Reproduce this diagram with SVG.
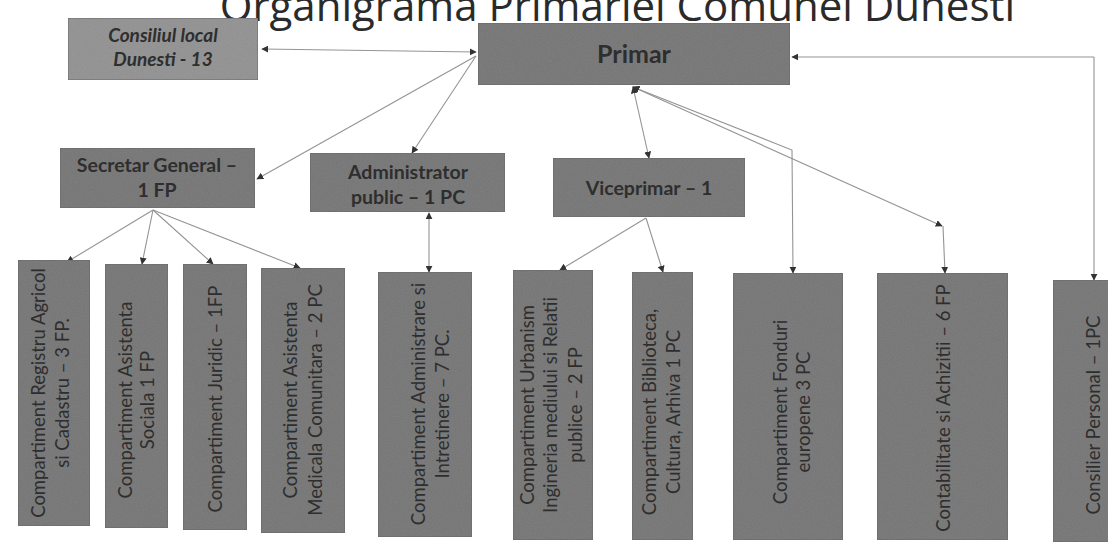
<svg xmlns="http://www.w3.org/2000/svg" width="1108" height="542" viewBox="0 0 1108 542">
<style>
.box{fill:#7f7f7f;stroke:#6c6c6c;stroke-width:1;filter:url(#grain)}
.light{fill:#9a9a9a}
.t{font-family:Lato,"Open Sans","Liberation Sans",sans-serif;fill:#2e2e2e;text-anchor:middle}
.h{font-size:19.5px;font-weight:bold}
.v{font-size:18.5px}
.c{fill:none;stroke:#949494;stroke-width:1.1}
</style>
<defs>
<filter id="grain" x="0" y="0" width="100%" height="100%">
<feTurbulence type="fractalNoise" baseFrequency="0.8" numOctaves="2" seed="3" result="n"/>
<feColorMatrix in="n" type="matrix" values="0 0 0 0 0.5  0 0 0 0 0.5  0 0 0 0 0.5  0 0 0 0.35 0" result="g"/>
<feComposite in="g" in2="SourceGraphic" operator="in" result="gi"/>
<feBlend in="gi" in2="SourceGraphic" mode="multiply"/>
</filter>
<marker id="ah" viewBox="0 0 10 10" refX="9" refY="5" markerWidth="7" markerHeight="7" markerUnits="userSpaceOnUse" orient="auto-start-reverse">
<path d="M0,0 L10,5 L0,10 z" fill="#333"/>
</marker>
</defs>
<rect width="1108" height="542" fill="#fff"/>
<text x="1015" y="21" font-family="'Open Sans',Lato,sans-serif" font-size="42" fill="#2a2a2a" text-anchor="end">Organigrama Primariei Comunei Dunesti</text>

<g id="connectors">
<path class="c" d="M476,52 L262,49" marker-end="url(#ah)" marker-start="url(#ah)"/>
<path class="c" d="M1094,57 L792,57" marker-end="url(#ah)"/>
<path class="c" d="M1094,57 L1094,280" marker-end="url(#ah)"/>
<path class="c" d="M476,56 L257,179" marker-end="url(#ah)"/>
<path class="c" d="M476,56 L412,153" marker-end="url(#ah)"/>
<path class="c" d="M633,87 L649,158" marker-end="url(#ah)" marker-start="url(#ah)"/>
<path class="c" d="M633,87 L792,150 L793,273" marker-end="url(#ah)" marker-start="url(#ah)"/>
<path class="c" d="M633,87 L942,226" marker-end="url(#ah)" marker-start="url(#ah)"/>
<path class="c" d="M943,226 L945,273" marker-end="url(#ah)"/>
<path class="c" d="M153,210 L67,262" marker-end="url(#ah)"/>
<path class="c" d="M153,210 L142,264" marker-end="url(#ah)"/>
<path class="c" d="M153,210 L213,264" marker-end="url(#ah)"/>
<path class="c" d="M153,210 L300,268" marker-end="url(#ah)"/>
<path class="c" d="M429,213 L429,272" marker-end="url(#ah)" marker-start="url(#ah)"/>
<path class="c" d="M646,218 L560,270" marker-end="url(#ah)"/>
<path class="c" d="M646,218 L663,272" marker-end="url(#ah)"/>
</g>

<g id="consiliul">
<rect class="box light" x="68" y="18" width="190" height="62"/>
<text class="t" x="163" y="42" font-size="19" font-style="italic" font-weight="bold"><tspan x="163">Consiliul local</tspan><tspan x="163" dy="24">Dunesti - 13</tspan></text>
</g>
<g id="primar">
<rect class="box" x="478" y="23" width="312" height="62"/>
<text class="t" x="634" y="63" font-size="25" font-weight="bold">Primar</text>
</g>
<g id="secretar">
<rect class="box" x="60" y="148" width="195" height="60"/>
<text class="t h" x="157" y="172"><tspan x="157">Secretar General –</tspan><tspan x="157" dy="25">1 FP</tspan></text>
</g>
<g id="administrator">
<rect class="box" x="310" y="153" width="195" height="59"/>
<text class="t h" x="408" y="179"><tspan x="408">Administrator</tspan><tspan x="408" dy="25">public – 1 PC</tspan></text>
</g>
<g id="viceprimar">
<rect class="box" x="553" y="158" width="192" height="59"/>
<text class="t h" x="649" y="195">Viceprimar – 1</text>
</g>

<g id="registru">
<rect class="box" x="18" y="260" width="72" height="266"/>
<text class="t v" transform="translate(50,393) rotate(-90)"><tspan x="0" y="-5.5">Compartiment Registru Agricol</tspan><tspan x="0" y="18.5">si Cadastru – 3 FP.</tspan></text>
</g>
<g id="asistenta-sociala">
<rect class="box" x="105" y="264" width="63" height="264"/>
<text class="t v" transform="translate(136,400) rotate(-90)"><tspan x="0" y="-4.5">Compartiment Asistenta</tspan><tspan x="0" y="17.5">Sociala 1 FP</tspan></text>
</g>
<g id="juridic">
<rect class="box" x="183" y="264" width="64" height="266"/>
<text class="t v" transform="translate(215,399) rotate(-90)"><tspan x="0" y="6.5">Compartiment Juridic – 1FP</tspan></text>
</g>
<g id="asistenta-medicala">
<rect class="box" x="261" y="268" width="84" height="265"/>
<text class="t v" transform="translate(302,400) rotate(-90)"><tspan x="0" y="-5.5">Compartiment Asistenta</tspan><tspan x="0" y="19.5">Medicala Comunitara – 2 PC</tspan></text>
</g>
<g id="administrare">
<rect class="box" x="378" y="272" width="94" height="265"/>
<text class="t v" transform="translate(430,404) rotate(-90)"><tspan x="0" y="-5.5">Compartiment Administrare si</tspan><tspan x="0" y="18.5">Intretinere – 7 PC.</tspan></text>
</g>
<g id="urbanism">
<rect class="box" x="513" y="270" width="80" height="270"/>
<text class="t v" transform="translate(552,405) rotate(-90)"><tspan x="0" y="-18.5">Compartiment Urbanism</tspan><tspan x="0" y="4.5">Ingineria mediului si Relatii</tspan><tspan x="0" y="30">publice – 2 FP</tspan></text>
</g>
<g id="biblioteca">
<rect class="box" x="632" y="272" width="61" height="268"/>
<text class="t v" transform="translate(660,412) rotate(-90)"><tspan x="0" y="-4">Compartiment Biblioteca,</tspan><tspan x="0" y="20">Cultura, Arhiva 1 PC</tspan></text>
</g>
<g id="fonduri">
<rect class="box" x="733" y="273" width="110" height="267"/>
<text class="t v" transform="translate(791,412) rotate(-90)"><tspan x="0" y="-4.5">Compartiment Fonduri</tspan><tspan x="0" y="18.5">europene 3 PC</tspan></text>
</g>
<g id="contabilitate">
<rect class="box" x="877" y="273" width="131" height="267"/>
<text class="t v" transform="translate(943,408) rotate(-90)"><tspan x="0" y="6.5">Contabilitate si Achizitii – 6 FP</tspan></text>
</g>
<g id="consilier">
<rect class="box" x="1053" y="280" width="60" height="262"/>
<text class="t v" transform="translate(1093,415) rotate(-90)"><tspan x="0" y="6.5">Consilier Personal – 1PC</tspan></text>
</g>
</svg>
